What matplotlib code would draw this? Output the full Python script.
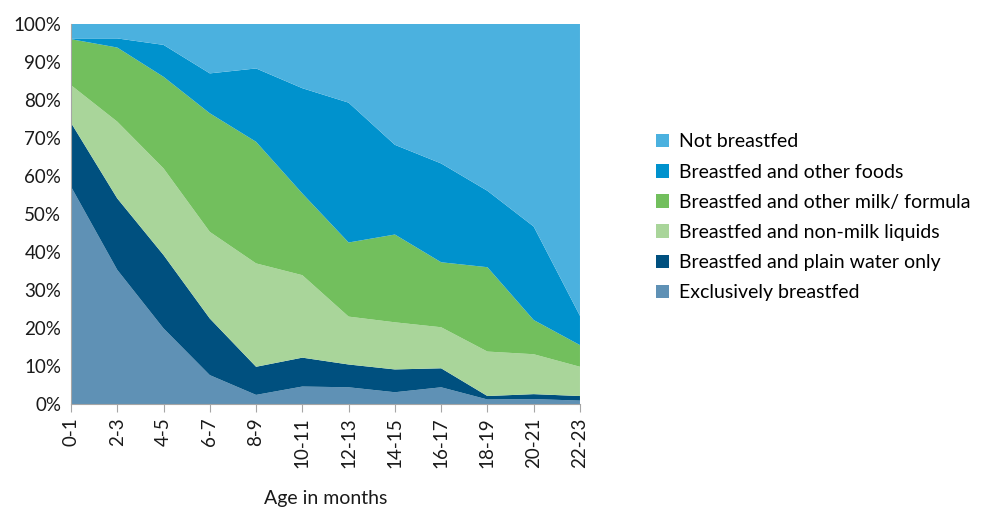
import matplotlib.pyplot as plt
import numpy as np
from matplotlib.patches import Patch
from matplotlib.ticker import PercentFormatter

plt.rcParams['font.family'] = ['Lato', 'DejaVu Sans']

ages = ['0-1', '2-3', '4-5', '6-7', '8-9', '10-11', '12-13', '14-15',
        '16-17', '18-19', '20-21', '22-23']

# shares in percent, bottom layer first
exclusive = [57.2, 35.3, 19.9, 7.6, 2.4, 4.6, 4.4, 3.1, 4.4, 1.2, 1.3, 0.9]
plain_water = [16.8, 18.8, 19.3, 14.9, 7.4, 7.6, 6.0, 6.0, 5.0, 0.9, 1.3, 1.2]
non_milk = [9.9, 20.2, 22.8, 22.8, 27.2, 21.7, 12.6, 12.4, 10.8, 11.7, 10.5, 7.7]
other_milk = [12.1, 19.5, 24.1, 31.2, 32.0, 21.5, 19.5, 23.1, 17.1, 22.2, 9.0, 5.7]
other_foods = [0.2, 2.4, 8.4, 10.5, 19.3, 27.7, 36.8, 23.6, 26.0, 20.1, 24.6, 7.7]
not_bf = [3.8, 3.8, 5.5, 13.0, 11.7, 16.9, 20.7, 31.8, 36.7, 43.9, 53.3, 76.8]

labels = ['Exclusively breastfed', 'Breastfed and plain water only',
          'Breastfed and non-milk liquids', 'Breastfed and other milk/ formula',
          'Breastfed and other foods', 'Not breastfed']
colors = ['#5F91B5', '#00507F', '#A9D59A', '#72BF5D', '#0092CD', '#4BB1DF']

fig = plt.figure(figsize=(9.82, 5.08), dpi=100)
ax = fig.add_axes([0.0723, 0.2047, 0.5183, 0.7481])

x = np.arange(len(ages))
ax.stackplot(x, exclusive, plain_water, non_milk, other_milk, other_foods, not_bf,
             colors=colors, linewidth=0)

ax.set_xlim(0, len(ages) - 1)
ax.set_ylim(0, 100)
ax.set_yticks(range(0, 101, 10))
ax.yaxis.set_major_formatter(PercentFormatter(decimals=0))
ax.set_xticks(x)
ax.set_xticklabels(ages, rotation=90)
ax.tick_params(axis='y', length=0, labelsize=13.5, pad=7, labelcolor='#1a1a1a')
ax.tick_params(axis='x', length=6, color='#a6a6a6', labelsize=13.5, labelcolor='#1a1a1a')
for s in ['top', 'right']:
    ax.spines[s].set_visible(False)
for s in ['left', 'bottom']:
    ax.spines[s].set_color('#a6a6a6')
ax.set_xlabel('Age in months', fontsize=14, labelpad=16, color='#1a1a1a')

handles = [Patch(facecolor=c, label=l) for c, l in zip(colors, labels)][::-1]
fig.legend(handles=handles, loc='center left', bbox_to_anchor=(0.65, 0.572),
           frameon=False, fontsize=14, handlelength=0.7, handleheight=0.7,
           handletextpad=0.5, labelspacing=0.68)

fig.savefig('out.png', dpi=100)
